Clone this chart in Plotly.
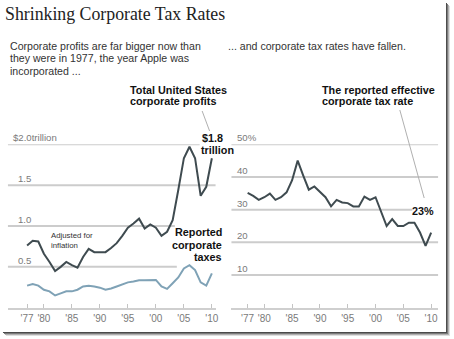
import plotly.graph_objects as go

W, H = 454, 339
years = list(range(1977, 2011))
profits = [0.76, 0.82, 0.81, 0.66, 0.56, 0.45, 0.50, 0.56, 0.52, 0.49,
           0.62, 0.72, 0.68, 0.68, 0.68, 0.73, 0.79, 0.88, 0.98, 1.03,
           1.09, 0.97, 1.02, 0.98, 0.88, 0.93, 1.07, 1.44, 1.83, 1.97,
           1.83, 1.37, 1.48, 1.83]
taxes = [0.27, 0.29, 0.27, 0.22, 0.20, 0.15, 0.175, 0.20, 0.20, 0.22,
         0.26, 0.27, 0.26, 0.245, 0.22, 0.235, 0.26, 0.285, 0.31, 0.32,
         0.335, 0.335, 0.34, 0.34, 0.26, 0.23, 0.30, 0.37, 0.48, 0.52,
         0.46, 0.31, 0.27, 0.42]
tax_rate = [35.1, 34.2, 33.0, 33.8, 34.9, 33.0, 33.8, 35.3, 39.0, 45.0,
            40.4, 36.1, 37.1, 35.6, 33.8, 31.0, 33.0, 32.2, 32.0, 31.0,
            31.0, 34.0, 33.0, 33.8, 29.1, 25.0, 27.1, 25.0, 25.0, 26.0,
            26.0, 23.0, 18.9, 23.0]
tick_years = [1977, 1980, 1985, 1990, 1995, 2000, 2005, 2010]
tick_text = ["'77", "'80", "'85", "'90", "'95", "'00", "'05", "'10"]
left_grid = [0.5, 1.0, 1.5, 2.0]
left_grid_text = ["0.5", "1.0", "1.5", "$2.0trillion"]
right_grid = [10, 20, 30, 40, 50]
right_grid_text = ["10", "20", "30", "40", "50%"]


def px(x):
    return x / W


def py(y):
    return 1 - y / H


DARK = "#3f4b50"
BLUE = "#7fa2b6"
GRID = "#cccccc"
LABEL = "#7a7a7a"
SANS = "Liberation Sans, Arial, sans-serif"

XL_DOM, XL_RNG = (8, 217), (1973.58, 2010.66)
XR_DOM, XR_RNG = (233, 441), (1974.09, 2011.25)


def xdata(pix, dom, rng):
    return rng[0] + (pix - dom[0]) / (dom[1] - dom[0]) * (rng[1] - rng[0])


fig = go.Figure()
fig.add_trace(go.Scatter(x=years, y=profits, mode="lines",
                         line=dict(color=DARK, width=2), xaxis="x", yaxis="y",
                         hoverinfo="skip"))
fig.add_trace(go.Scatter(x=years, y=taxes, mode="lines",
                         line=dict(color=BLUE, width=2), xaxis="x", yaxis="y",
                         hoverinfo="skip"))
fig.add_trace(go.Scatter(x=years, y=tax_rate, mode="lines",
                         line=dict(color=DARK, width=2), xaxis="x2", yaxis="y2",
                         hoverinfo="skip"))

ydom = [py(307.7), py(144.3)]
xcommon = dict(tickvals=tick_years, ticktext=tick_text, ticks="inside",
               ticklen=4, tickcolor="#c4c4c4", tickwidth=1,
               showline=True, linecolor="#cfcfcf", linewidth=2,
               showgrid=False, zeroline=False,
               tickfont=dict(family=SANS, size=10, color=LABEL))
ycommon = dict(showgrid=False, zeroline=False, showticklabels=False,
               ticks="", showline=False)

fig.update_layout(
    width=W, height=H, margin=dict(l=0, r=0, t=0, b=0),
    paper_bgcolor="white", plot_bgcolor="white", showlegend=False,
    xaxis=dict(domain=[px(XL_DOM[0]), px(XL_DOM[1])], range=list(XL_RNG), anchor="y", **xcommon),
    yaxis=dict(domain=ydom, range=[0, 2.0], anchor="x", **ycommon),
    xaxis2=dict(domain=[px(XR_DOM[0]), px(XR_DOM[1])], range=list(XR_RNG), anchor="y2", **xcommon),
    yaxis2=dict(domain=ydom, range=[0, 50], anchor="x2", **ycommon),
)

shapes = []
left_ends = {0.5: 178, 1.0: 176, 1.5: 217, 2.0: 201}
for v in left_grid:
    shapes.append(dict(type="line", xref="paper", yref="y",
                       x0=px(8), x1=px(left_ends[v]),
                       y0=v, y1=v, line=dict(color=GRID, width=2), layer="below"))
for v in right_grid:
    x1 = 415 if v == 30 else 441
    shapes.append(dict(type="line", xref="paper", yref="y2",
                       x0=px(233), x1=px(x1),
                       y0=v, y1=v, line=dict(color=GRID, width=2), layer="below"))
# leader lines
shapes.append(dict(type="line", xref="paper", yref="paper", x0=px(203.5), y0=py(111),
                   x1=px(211), y1=py(131), line=dict(color="#b0b0b0", width=1)))
shapes.append(dict(type="line", xref="paper", yref="paper", x0=px(402.5), y0=py(110),
                   x1=px(427), y1=py(198), line=dict(color="#b0b0b0", width=1)))
# frame with shadow
for i, c in enumerate(["#4a4a4a", "#7a7a7a", "#b0b0b0", "#dedede"]):
    shapes.append(dict(type="line", xref="paper", yref="paper", x0=px(449.5 + i), x1=px(449.5 + i),
                       y0=py(3 + i), y1=py(333 + i), line=dict(color=c, width=1)))
    shapes.append(dict(type="line", xref="paper", yref="paper", x0=px(3 + i), x1=px(450 + i),
                       y0=py(332.5 + i), y1=py(332.5 + i), line=dict(color=c, width=1)))
fig.update_layout(shapes=shapes)

ann = []


def txt(x, y, s, size=10.6, color="#333", bold=False, xanchor="left", family=SANS):
    if bold:
        s = "<b>" + s + "</b>"
    ann.append(dict(x=px(x), y=py(y), xref="paper", yref="paper", text=s, showarrow=False,
                    xanchor=xanchor, yanchor="middle", font=dict(family=family, size=size, color=color)))


txt(3, 14, "Shrinking Corporate Tax Rates", size=17.8, color="#222",
    family="Liberation Serif, Times New Roman, serif")
txt(8.5, 46, "Corporate profits are far bigger now than")
txt(8.5, 58.5, "they were in 1977, the year Apple was")
txt(8.5, 71, "incorporated ...")
txt(227.5, 46, "... and corporate tax rates have fallen.")
txt(128.5, 89.5, "Total United States", size=10.8, color="#111", bold=True)
txt(128.5, 101, "corporate profits", size=10.8, color="#111", bold=True)
txt(322.5, 89.5, "The reported effective", size=10.8, color="#111", bold=True)
txt(322.5, 101, "corporate tax rate", size=10.8, color="#111", bold=True)
txt(201, 137.5, "$1.8", size=10.8, color="#111", bold=True)
txt(200, 150, "trillion", size=10.8, color="#111", bold=True)
txt(225.5, 232.5, "Reported", size=10.8, color="#111", bold=True, xanchor="right")
txt(225.5, 244.7, "corporate", size=10.8, color="#111", bold=True, xanchor="right")
txt(225.5, 256.8, "taxes", size=10.8, color="#111", bold=True, xanchor="right")
txt(49.5, 235, "Adjusted for", size=7.8, color="#333")
txt(49.5, 245, "inflation", size=7.8, color="#333")
txt(439, 211, "23%", size=10.8, color="#111", bold=True, xanchor="right")

for v, s in zip(left_grid, left_grid_text):
    xl = 11.5 if s.startswith("$") else 16.5
    ann.append(dict(x=px(xl), y=v, xref="paper", yref="y", text=s, showarrow=False,
                    xanchor="left", yanchor="middle", yshift=6.5,
                    font=dict(family=SANS, size=9.6, color=LABEL)))
for v, s in zip(right_grid, right_grid_text):
    ann.append(dict(x=px(236.5), y=v, xref="paper", yref="y2", text=s, showarrow=False,
                    xanchor="left", yanchor="middle", yshift=6.5,
                    font=dict(family=SANS, size=9.6, color=LABEL)))
fig.update_layout(annotations=ann)

fig.write_html("out.html")
